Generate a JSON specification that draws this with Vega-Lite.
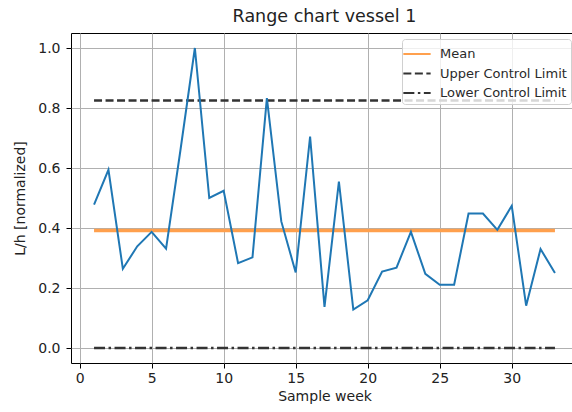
{
  "$schema": "https://vega.github.io/schema/vega-lite/v6.json",
  "width": 507,
  "height": 330,
  "autosize": {"type": "none"},
  "padding": {"left": 71, "top": 33, "right": 0, "bottom": 49},
  "background": "white",
  "title": {
    "text": "Range chart vessel 1",
    "font": "DejaVu Sans",
    "fontSize": 17.5,
    "fontWeight": "normal",
    "color": "#222",
    "anchor": "middle",
    "offset": 8
  },
  "config": {
    "view": {"stroke": "#000", "strokeWidth": 1},
    "axis": {
      "labelFont": "DejaVu Sans",
      "labelFontSize": 14,
      "labelColor": "#222",
      "titleFont": "DejaVu Sans",
      "titleFontSize": 14,
      "titleFontWeight": "normal",
      "titleColor": "#222",
      "domain": false,
      "tickColor": "#000",
      "tickSize": 5,
      "gridColor": "#b0b0b0",
      "gridWidth": 1
    }
  },
  "datasets": {
    "series": [
      {"week": 1, "value": 0.478},
      {"week": 2, "value": 0.594},
      {"week": 3, "value": 0.264},
      {"week": 4, "value": 0.339},
      {"week": 5, "value": 0.387},
      {"week": 6, "value": 0.331},
      {"week": 7, "value": 0.66},
      {"week": 8, "value": 1.0},
      {"week": 9, "value": 0.5},
      {"week": 10, "value": 0.524},
      {"week": 11, "value": 0.283},
      {"week": 12, "value": 0.302},
      {"week": 13, "value": 0.833},
      {"week": 14, "value": 0.422},
      {"week": 15, "value": 0.252},
      {"week": 16, "value": 0.705},
      {"week": 17, "value": 0.137},
      {"week": 18, "value": 0.555},
      {"week": 19, "value": 0.128},
      {"week": 20, "value": 0.159},
      {"week": 21, "value": 0.255},
      {"week": 22, "value": 0.268},
      {"week": 23, "value": 0.387},
      {"week": 24, "value": 0.247},
      {"week": 25, "value": 0.211},
      {"week": 26, "value": 0.211},
      {"week": 27, "value": 0.448},
      {"week": 28, "value": 0.448},
      {"week": 29, "value": 0.394},
      {"week": 30, "value": 0.474},
      {"week": 31, "value": 0.141},
      {"week": 32, "value": 0.33},
      {"week": 33, "value": 0.25}
    ],
    "limits": [
      {"label": "Mean", "start": 1, "end": 33, "value": 0.392},
      {"label": "Upper Control Limit", "start": 1, "end": 33, "value": 0.825},
      {"label": "Lower Control Limit", "start": 1, "end": 33, "value": 0.0}
    ]
  },
  "layer": [
    {
      "data": {"name": "limits"},
      "mark": {"type": "rule"},
      "encoding": {
        "x": {
          "field": "start", "type": "quantitative",
          "scale": {"domain": [-0.6, 34.6], "nice": false, "zero": false},
          "axis": {"values": [0, 5, 10, 15, 20, 25, 30], "title": "Sample week", "labelPadding": 3, "titlePadding": 4, "format": "d"}
        },
        "x2": {"field": "end"},
        "y": {
          "field": "value", "type": "quantitative",
          "scale": {"domain": [-0.05, 1.05], "nice": false, "zero": false},
          "axis": {"values": [0, 0.2, 0.4, 0.6, 0.8, 1.0], "format": ".1f", "title": "L/h [normalized]", "labelPadding": 6, "titlePadding": 10}
        },
        "color": {
          "field": "label", "type": "nominal",
          "scale": {"domain": ["Mean", "Upper Control Limit", "Lower Control Limit"], "range": ["#ffa04d", "#333333", "#333333"]},
          "legend": {
            "title": null,
            "orient": "none",
            "legendX": 331,
            "legendY": 6,
            "padding": 4,
            "fillColor": "rgba(255,255,255,0.8)",
            "strokeColor": "#d0d0d0",
            "cornerRadius": 3,
            "symbolType": "M-1.4,0H1.4",
            "symbolSize": 380,
            "symbolStrokeWidth": 2.2,
            "labelFont": "DejaVu Sans",
            "labelFontSize": 13,
            "labelColor": "#2a2a2a",
            "labelOffset": 12,
            "rowPadding": 1.5
          }
        },
        "strokeDash": {
          "field": "label", "type": "nominal",
          "scale": {"domain": ["Mean", "Upper Control Limit", "Lower Control Limit"], "range": [[1, 0], [8, 3.5], [11, 3.5, 2.5, 3.5]]},
          "legend": {"title": null}
        },
        "strokeWidth": {
          "condition": {"test": "datum.label === 'Mean'", "value": 3.5},
          "value": 2.3
        }
      }
    },
    {
      "data": {"name": "series"},
      "mark": {"type": "line", "color": "#1f77b4", "strokeWidth": 2},
      "encoding": {
        "x": {"field": "week", "type": "quantitative"},
        "y": {"field": "value", "type": "quantitative"}
      }
    }
  ]
}
